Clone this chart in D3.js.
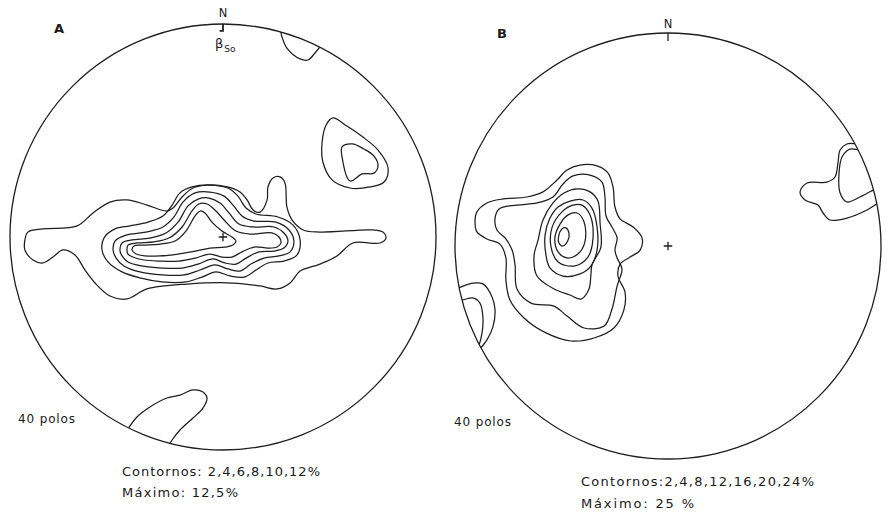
<!DOCTYPE html>
<html>
<head>
<meta charset="utf-8">
<script src="https://cdn.jsdelivr.net/npm/d3@7"></script>
<style>
  html, body { margin: 0; padding: 0; background: #fff; }
  svg { display: block; }
  text { font-family: "DejaVu Sans", "Liberation Sans", Arial, sans-serif; fill: #1a1a1a; }
</style>
</head>
<body>
<svg id="chart" width="888" height="512"></svg>
<script>
// Equal-area net contour diagrams of poles (two stations).
// Contour vertices are given in net coordinates: x east, y north, in percent of the net radius.

// ---- Net A ----
const levelsA = [2, 4, 6, 8, 10, 12];
const maximumA = "12,5";
const polesA = 40;

const a2 = [[-93,-1.4],[-91.6,2.3],[-84.5,3.8],[-68.5,5.2],[-61,11.3],[-53.1,16.4],[-45.1,17.4],[-35.7,15],[-26.3,12.2],[-23.5,13.6],[-19.2,18.8],[-14.1,23],[-7.5,24.4],[1.9,23.5],[8,21.1],[11.3,17.4],[14.1,12.7],[17.4,11.7],[20.7,17.4],[21.1,23.5],[23.5,27.7],[26.8,28.2],[29.1,25.4],[30,14.1],[32.4,8],[37.6,3.3],[45.5,2.3],[70.4,3.3],[75.1,2.3],[76.5,-0.5],[73.7,-2.8],[61,-2.8],[53.5,-8.9],[45.5,-12.7],[36.2,-16],[31.5,-21.6],[25.4,-24.4],[17.4,-23],[4.7,-21.6],[-16.9,-22.1],[-35.7,-24.4],[-45.1,-29.1],[-53.1,-27.7],[-60.1,-21.6],[-64.8,-15.5],[-69.5,-8.5],[-75.1,-6.1],[-79.8,-9.4],[-84.5,-12.2],[-89.2,-10.8],[-93,-6.1]];
const a4 = [[-56.8,-6.1],[-55.9,-0.5],[-50.7,3.8],[-43.7,5.2],[-35.2,7],[-28.2,9.9],[-23.9,15],[-20.2,20.7],[-14.6,23.5],[-6.1,24.4],[2.3,23],[7,19.2],[10.8,13.6],[15.5,10.8],[25.8,9.4],[32.9,5.6],[36.2,-1.4],[34.7,-8.5],[28.6,-11.3],[21.1,-12.2],[15.5,-15.5],[9.9,-18.8],[3.3,-18.3],[-3.3,-16.4],[-9.9,-18.8],[-17.4,-21.1],[-28.6,-21.1],[-39,-19.2],[-47.4,-16.4],[-54,-11.7]];
const a6 = [[-51.6,-6.1],[-50.7,-1.9],[-45.5,0.9],[-36.2,2.3],[-28.2,4.7],[-23,9.4],[-18.8,16.4],[-13.1,20.7],[-6.1,21.1],[0.5,19.2],[4.7,15],[8.9,9.9],[14.6,7.5],[24.9,7],[31,3.3],[33.3,-1.9],[31.5,-7],[26.3,-8.9],[19.2,-9.9],[13.1,-12.7],[8,-16],[2.3,-15],[-3.8,-13.1],[-10.8,-15.5],[-18.3,-17.8],[-28.6,-17.8],[-39,-16.4],[-46.5,-13.6],[-50.2,-9.9]];
const a8 = [[-48.4,-6.1],[-47.4,-2.8],[-42.7,-1.4],[-34.3,-0.5],[-26.8,1.9],[-21.1,7],[-16.4,14.6],[-11.7,17.8],[-6.6,18.3],[-1.4,16],[2.8,11.3],[7.5,6.1],[14.1,4.7],[23.9,4.7],[28.6,1.9],[30.5,-1.9],[28.6,-5.2],[23.9,-6.6],[16.9,-7],[10.8,-9.9],[6.1,-12.7],[0.9,-12.2],[-4.7,-10.3],[-11.7,-12.7],[-19.2,-14.6],[-28.6,-14.6],[-38,-13.6],[-44.6,-11.7],[-47.4,-8.9]];
const a10 = [[-45.1,-6.1],[-44.6,-3.8],[-40.4,-2.8],[-32.4,-2.3],[-25.4,-0.5],[-19.2,4.7],[-14.6,12.2],[-11.3,15.5],[-7.5,15.5],[-3.8,12.7],[0.5,8],[6.1,2.8],[12.7,1.4],[23,1.9],[26.3,0],[27.2,-2.8],[25.4,-4.7],[21.1,-5.2],[14.6,-4.7],[8.9,-7],[4.2,-9.4],[-0.5,-9.4],[-6.1,-8],[-13.1,-9.9],[-20.7,-11.3],[-29.6,-11.3],[-37.1,-10.8],[-42.3,-9.4],[-44.6,-8]];
const a12 = [[-42.7,-6.1],[-41.8,-4.2],[-37.6,-3.8],[-29.6,-3.3],[-22.5,-1.9],[-17.4,2.8],[-13.1,9.9],[-10.8,12.2],[-8.5,11.3],[-5.2,7],[-0.5,2.8],[4.2,0],[6.1,-1.9],[4.7,-3.8],[0.9,-4.7],[-6.1,-5.2],[-13.1,-6.6],[-21.1,-8],[-29.6,-8.9],[-36.6,-8.9],[-40.8,-8]];
const aNE2 = [[51.6,55.9],[58.2,52.1],[65.7,46.9],[72.8,40.8],[77.5,32.4],[75.6,25.8],[69,23.5],[59.6,23],[51.2,26.8],[46.9,35.2],[46.5,44.1],[48.4,52.6]];
const aNE4 = [[55.9,42.3],[60.6,43.7],[66.2,41.3],[70.9,38],[72.8,33.3],[70.9,30],[65.3,29.6],[59.6,26.3],[55.9,37.6]];
const aN2 = [[25.4,101.9],[26.8,97.7],[27.7,93.9],[30,88.7],[36.2,83.6],[39.9,83.1],[43.2,86.4],[46,90.1],[47.9,94.4]];
const aS2 = [[-46.5,-93.4],[-44.6,-90.1],[-40.4,-84.5],[-34.3,-79.8],[-26.3,-75.6],[-20.2,-74.2],[-14.1,-71.8],[-9.4,-72.8],[-7.5,-75.6],[-9.4,-80.3],[-14.1,-85],[-20.2,-90.6],[-23.9,-95.3],[-27.2,-100.9]];

// ---- Net B ----
const levelsB = [2, 4, 8, 12, 16, 20, 24];
const maximumB = "25";
const polesB = 40;

const b2 = [[-90.6,11.3],[-89.7,16],[-85,20.2],[-77.5,22.1],[-66.2,23],[-58.7,25.4],[-52.1,31],[-47.4,35.7],[-41.3,38],[-33.3,37.6],[-28.2,34.3],[-25.8,27.7],[-24.9,18.3],[-22.5,12.7],[-16.4,8.9],[-12.2,3.8],[-13.1,-1.9],[-17.8,-5.2],[-22.5,-8.5],[-23.5,-14.1],[-20.2,-21.6],[-20.7,-30],[-25.4,-38.5],[-34.7,-43.2],[-45.5,-44.6],[-57.3,-40.8],[-67.6,-33.8],[-74.2,-25.4],[-76.1,-16],[-76.1,-5.6],[-78.9,0.9],[-85,3.3],[-89.7,6.6]];
const b4 = [[-81.2,13.1],[-79.3,17.4],[-70.9,19.2],[-61.5,20.2],[-54,23],[-49.3,29.1],[-44.6,32.9],[-36.6,33.3],[-31,30],[-29.6,23],[-29.1,14.1],[-26.3,8.9],[-23.9,3.8],[-24.9,-1.9],[-23.9,-5.6],[-21.6,-10.8],[-23.9,-18.8],[-26.3,-29.6],[-30,-37.6],[-39.4,-38.5],[-47.4,-32.9],[-53.5,-28.2],[-64.3,-26.8],[-70.9,-20.2],[-71.8,-8.9],[-73.2,-1.9],[-76.5,3.8],[-80.3,7.5]];
const b8 = [[-42.7,26.8],[-36.6,25.4],[-32.9,21.1],[-31.9,10.8],[-31.5,-0.5],[-35.7,-8.9],[-36.2,-13.6],[-37.1,-20.2],[-40.8,-24.9],[-46,-23],[-53.5,-20.2],[-61.5,-14.1],[-62.9,-4.7],[-61,2.8],[-58.7,12.2],[-54,20.2],[-48.8,24.9]];
const b12 = [[-39.9,21.6],[-35.7,17.8],[-33.3,8.9],[-33.3,-1.9],[-36.2,-9.4],[-41.3,-13.1],[-49.3,-14.1],[-55.4,-10.3],[-57.3,-4.2],[-57.7,5.2],[-55.4,13.1],[-51.6,18.3],[-46,21.1]];
const b16 = [[-40.4,19.2],[-36.6,14.6],[-35.2,3.8],[-37.6,-5.2],[-44.1,-9.4],[-51.6,-7.5],[-54.9,-0.5],[-54.5,8.5],[-49.8,16],[-44.6,19.2]];
const b20 = [[-42.7,15.5],[-39.4,11.3],[-39,1.9],[-42.3,-3.8],[-47.4,-5.6],[-51.6,-2.8],[-53.1,3.8],[-50.7,10.3],[-46.9,14.6]];
const b24 = [[-47.9,8.5],[-46.5,6.1],[-46.9,2.8],[-49.3,0],[-51.2,1.4],[-51.2,5.2],[-49.8,8]];
const bE2 = [[91.1,51.6],[89.2,48.4],[84,47.9],[80.8,45.1],[79.8,39],[78.4,32.4],[74.6,30],[65.3,29.6],[62,25.4],[64.3,21.6],[70.4,19.2],[72.8,15.5],[76.1,12.2],[84,13.1],[93.4,16.9],[99.5,20.7],[103.3,22.5]];
const bE4 = [[93.9,46.9],[91.1,45.1],[85.4,45.5],[81.7,41.8],[80.3,34.3],[80.8,24.9],[84,20.7],[90.1,23],[98.1,27.2],[102.3,29.1]];
const bW2 = [[-102.3,-20.7],[-98.6,-19.7],[-91.6,-17.4],[-86.9,-17.8],[-82.6,-23.9],[-81.2,-30],[-82.2,-38],[-85,-44.1],[-88.3,-48.4],[-91.1,-52.6]];
const bW4 = [[-101.4,-25.8],[-96.7,-25.4],[-91.6,-24.4],[-88.3,-26.8],[-86.9,-33.3],[-87.3,-40.8],[-89.2,-47.9],[-91.1,-51.6]];

// Contour sets: closed loops and arcs that run out to the primitive circle.
const netA = {
  id: "A", cx: 223, cy: 237, r: 213,
  levels: levelsA, maximum: maximumA, poles: polesA,
  contours: [
    { level: 2, closed: true, pts: a2 },
    { level: 4, closed: true, pts: a4 },
    { level: 6, closed: true, pts: a6 },
    { level: 8, closed: true, pts: a8 },
    { level: 10, closed: true, pts: a10 },
    { level: 12, closed: true, pts: a12 },
    { level: 2, closed: true, pts: aNE2 },
    { level: 4, closed: true, pts: aNE4 },
    { level: 2, closed: false, pts: aN2 },
    { level: 2, closed: false, pts: aS2 }
  ]
};
const netB = {
  id: "B", cx: 668, cy: 246, r: 213,
  levels: levelsB, maximum: maximumB, poles: polesB,
  contours: [
    { level: 2, closed: true, pts: b2 },
    { level: 4, closed: true, pts: b4 },
    { level: 8, closed: true, pts: b8 },
    { level: 12, closed: true, pts: b12 },
    { level: 16, closed: true, pts: b16 },
    { level: 20, closed: true, pts: b20 },
    { level: 24, closed: true, pts: b24 },
    { level: 2, closed: false, pts: bE2 },
    { level: 4, closed: false, pts: bE4 },
    { level: 2, closed: false, pts: bW2 },
    { level: 4, closed: false, pts: bW4 }
  ]
};

const svg = d3.select("#chart");
const ink = "#1e1e1e";

function drawNet(net) {
  const x = d3.scaleLinear().domain([-100, 100]).range([net.cx - net.r, net.cx + net.r]);
  const y = d3.scaleLinear().domain([-100, 100]).range([net.cy + net.r, net.cy - net.r]);
  const g = svg.append("g").attr("class", "net-" + net.id);

  const clipId = "clip-" + net.id;
  svg.append("defs").append("clipPath").attr("id", clipId)
    .append("circle").attr("cx", x(0)).attr("cy", y(0)).attr("r", x(100) - x(0));

  const closedLine = d3.line().x(d => x(d[0])).y(d => y(d[1])).curve(d3.curveCatmullRomClosed.alpha(0.5));
  const openLine = d3.line().x(d => x(d[0])).y(d => y(d[1])).curve(d3.curveCatmullRom.alpha(0.5));

  g.append("g").attr("clip-path", `url(#${clipId})`)
    .selectAll("path").data(net.contours).join("path")
    .attr("d", c => (c.closed ? closedLine : openLine)(c.pts))
    .attr("fill", "none").attr("stroke", ink).attr("stroke-width", 1.25)
    .attr("stroke-linejoin", "round");

  // primitive circle
  g.append("circle").attr("cx", x(0)).attr("cy", y(0)).attr("r", x(100) - x(0))
    .attr("fill", "none").attr("stroke", ink).attr("stroke-width", 1.3);

  // centre cross
  g.append("path")
    .attr("d", `M${x(-2)},${y(0)}H${x(2)}M${x(0)},${y(-2)}V${y(2)}`)
    .attr("stroke", ink).attr("stroke-width", 1.3);

  return { x, y, g };
}

const A = drawNet(netA);
const B = drawNet(netB);

// North marks
A.g.append("path").attr("d", `M${A.x(0)},${A.y(100)}V${A.y(96.8)}H${A.x(-1.6)}`)
  .attr("fill", "none").attr("stroke", ink).attr("stroke-width", 1.8);
A.g.append("text").attr("x", A.x(0)).attr("y", A.y(100) - 7).attr("text-anchor", "middle")
  .attr("font-size", 11.5).text("N");
const beta = A.g.append("text").attr("x", A.x(-3.8)).attr("y", A.y(100) + 24).attr("font-size", 13);
beta.append("tspan").text("β");
beta.append("tspan").attr("dy", 4).attr("font-size", 9).attr("dx", 1).text("So");

B.g.append("path").attr("d", `M${B.x(0)},${B.y(100)}V${B.y(96.2)}`)
  .attr("stroke", ink).attr("stroke-width", 1.3);
B.g.append("text").attr("x", B.x(0)).attr("y", B.y(100) - 5).attr("text-anchor", "middle")
  .attr("font-size", 11.5).text("N");

// Panel letters
svg.append("text").attr("x", 54).attr("y", 33).attr("font-size", 13).attr("font-weight", "bold").text("A");
svg.append("text").attr("x", 497).attr("y", 38).attr("font-size", 13).attr("font-weight", "bold").text("B");

// Pole counts
svg.append("text").attr("x", 18).attr("y", 423).attr("font-size", 12)
  .attr("textLength", 57).attr("lengthAdjust", "spacing").text(`${netA.poles} polos`);
svg.append("text").attr("x", 454).attr("y", 426).attr("font-size", 12)
  .attr("textLength", 57).attr("lengthAdjust", "spacing").text(`${netB.poles} polos`);

// Contour legends
svg.append("text").attr("x", 122).attr("y", 476).attr("font-size", 13)
  .attr("textLength", 198).attr("lengthAdjust", "spacing")
  .text(`Contornos: ${netA.levels.join(",")}%`);
svg.append("text").attr("x", 122).attr("y", 497).attr("font-size", 13)
  .attr("textLength", 116).attr("lengthAdjust", "spacing")
  .text(`Máximo: ${netA.maximum}%`);
svg.append("text").attr("x", 581).attr("y", 486).attr("font-size", 13)
  .attr("textLength", 233).attr("lengthAdjust", "spacing")
  .text(`Contornos:${netB.levels.join(",")}%`);
svg.append("text").attr("x", 581).attr("y", 508).attr("font-size", 13)
  .attr("textLength", 113).attr("lengthAdjust", "spacing")
  .text(`Máximo:  ${netB.maximum} %`);
</script>
</body>
</html>
